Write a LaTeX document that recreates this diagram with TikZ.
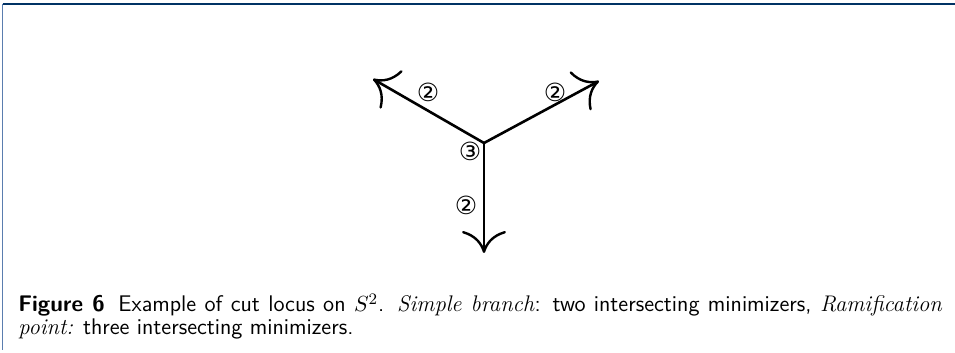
\documentclass[tikz,border=0pt]{standalone}
\usepackage{fontspec}
\newfontfamily\circfont{DejaVu Sans}
\usetikzlibrary{arrows.meta}
\definecolor{frametop}{RGB}{0,50,100}
\definecolor{frameleft}{RGB}{90,125,175}
\begin{document}
\begin{tikzpicture}[x=0.5pt,y=-0.5pt,
  branch/.style={line width=1.3pt,-{To[length=11pt,width=22pt,line width=1.2pt]}},
  mult/.style={font=\circfont\fontsize{12.5}{14}\selectfont,inner sep=0pt}]
\useasboundingbox (0,0) rectangle (955,353);
\draw[frametop,line width=0.9pt] (2.5,4) -- (955,4);
\draw[frameleft,line width=0.5pt] (2.5,4) -- (2.5,350);
\coordinate (c) at (484,143);
\coordinate (l) at (373,79);
\coordinate (r) at (599,81);
\coordinate (b) at (484,253);
\draw[branch] (c) -- (l);
\draw[branch] (c) -- (r);
\draw[branch] (c) -- (b);
\node[mult] (m1) at (428,92) {②};
\node[mult] (m2) at (555,92) {②};
\node[mult] (m3) at (470,151) {③};
\node[mult] (m4) at (466,205) {②};
\node[anchor=base west,inner sep=0pt,text width=462pt,align=justify,
  font=\sffamily\fontsize{11.3}{11.5}\selectfont] (cap) at (18,312)
  {\textbf{Figure 6}\hspace{0.6em}Example of cut locus on $S^2$. \textit{\rmfamily Simple branch}: two intersecting minimizers, \textit{\rmfamily Ramification}\linebreak \textit{\rmfamily point:} three intersecting minimizers.};
\end{tikzpicture}
\end{document}
